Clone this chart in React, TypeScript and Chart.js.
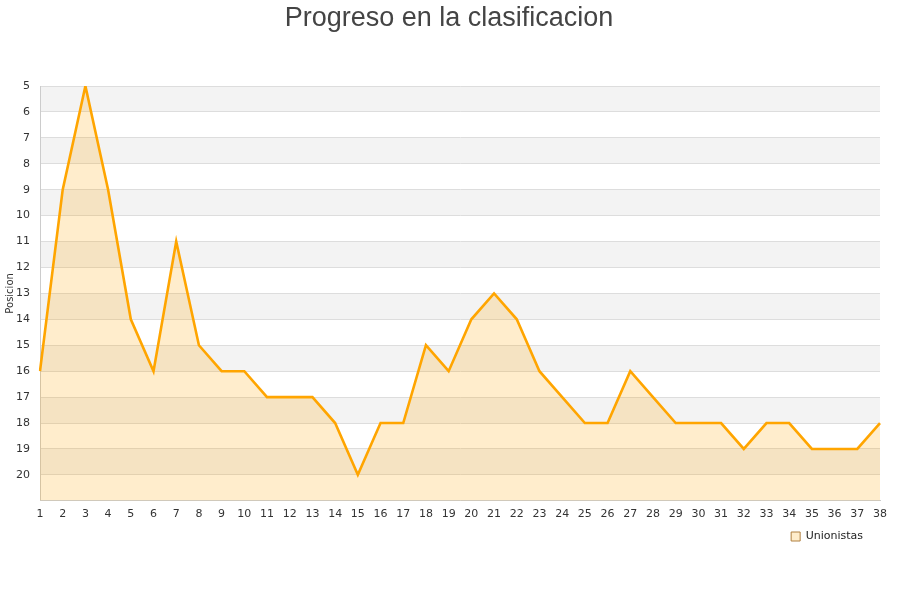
import React, { useEffect, useRef } from "react";
import { Chart, registerables } from "chart.js";

Chart.register(...registerables);

const jornadas: string[] = Array.from({ length: 38 }, (_, i) => String(i + 1));
const posiciones: number[] = [
  16, 9, 5, 9, 14, 16, 11, 15, 16, 16, 17, 17, 17, 18, 20, 18, 18, 15, 16, 14,
  13, 14, 16, 17, 18, 18, 16, 17, 18, 18, 18, 19, 18, 18, 19, 19, 19, 18,
];
const seriesName = "Unionistas";
const yMin = 5;
const yMax = 21;

const bandsPlugin = {
  id: "bands",
  afterLayout(chart: any) {
    if (chart.legend) chart.legend.right = chart.legend.right - 14;
    if (chart.titleBlock) {
      chart.titleBlock.left = chart.titleBlock.left + 9;
      chart.titleBlock.right = chart.titleBlock.right + 9;
    }
  },
  beforeDraw(chart: any) {
    const { ctx, chartArea } = chart;
    const y = chart.scales.y;
    ctx.save();
    ctx.fillStyle = "#ffffff";
    ctx.fillRect(0, 0, chart.width, chart.height);
    for (let v = yMin; v < yMax; v++) {
      if ((v - yMin) % 2 === 0) {
        const p1 = y.getPixelForValue(v);
        const p2 = y.getPixelForValue(v + 1);
        ctx.fillStyle = "#f3f3f3";
        ctx.fillRect(chartArea.left, Math.min(p1, p2), chartArea.right - chartArea.left, Math.abs(p2 - p1));
      }
    }
    ctx.restore();
  },
};

export default function App() {
  const ref = useRef<HTMLCanvasElement>(null);
  useEffect(() => {
    document.body.style.margin = "0";
    const chart = new Chart(ref.current as HTMLCanvasElement, {
      type: "line",
      data: {
        labels: jornadas,
        datasets: [
          {
            label: seriesName,
            data: posiciones,
            borderColor: "#FFA500",
            backgroundColor: "rgba(255,165,0,0.2)",
            borderWidth: 2.6,
            pointRadius: 0,
            tension: 0,
            fill: { value: yMax },
          },
        ],
      },
      options: {
        responsive: false,
        animation: false,
        layout: { padding: { right: 20, bottom: 48, left: 0 } },
        plugins: {
          title: {
            display: true,
            text: "Progreso en la clasificacion",
            color: "#444444",
            font: { family: "'Liberation Sans', Arial, sans-serif", size: 27, weight: "normal" },
            padding: { top: 2, bottom: 51.6 },
          },
          legend: {
            position: "bottom",
            align: "end",
            labels: {
              color: "#222222",
              font: { family: "'DejaVu Sans', sans-serif", size: 11 },
              boxWidth: 9,
              boxHeight: 9,
              padding: 3,
              generateLabels: () => [
                {
                  text: seriesName,
                  fillStyle: "rgba(255,165,0,0.2)",
                  strokeStyle: "#b08040",
                  lineWidth: 1,
                  hidden: false,
                  datasetIndex: 0,
                  fontColor: "#222222",
                },
              ],
            },
          },
          tooltip: { enabled: false },
        },
        scales: {
          x: {
            grid: { display: false, drawTicks: false, tickLength: 0 },
            border: { display: true, color: "#cccccc" },
            ticks: {
              autoSkip: false,
              maxRotation: 0,
              color: "#333333",
              font: { family: "'DejaVu Sans', sans-serif", size: 11 },
              padding: 7,
            },
          },
          y: {
            reverse: true,
            min: yMin,
            max: yMax,
            grid: { color: "#dddddd", drawTicks: false },
            border: { display: true, color: "#cccccc" },
            ticks: {
              stepSize: 1,
              color: "#333333",
              font: { family: "'DejaVu Sans', sans-serif", size: 11 },
              padding: 10,
              callback: (v: any) => (v >= yMax ? "" : String(v)),
            },
            title: {
              display: true,
              text: "Posicion",
              color: "#333333",
              font: { family: "'DejaVu Sans', sans-serif", size: 10 },
              padding: { top: 4, bottom: 0 },
            },
            afterFit: (s: any) => {
              s.width = 40;
            },
          },
        },
      },
      plugins: [bandsPlugin],
    });
    return () => chart.destroy();
  }, []);
  return (
    <div style={{ position: "absolute", left: 0, top: 0 }}>
      <canvas ref={ref} width={900} height={600} />
    </div>
  );
}
